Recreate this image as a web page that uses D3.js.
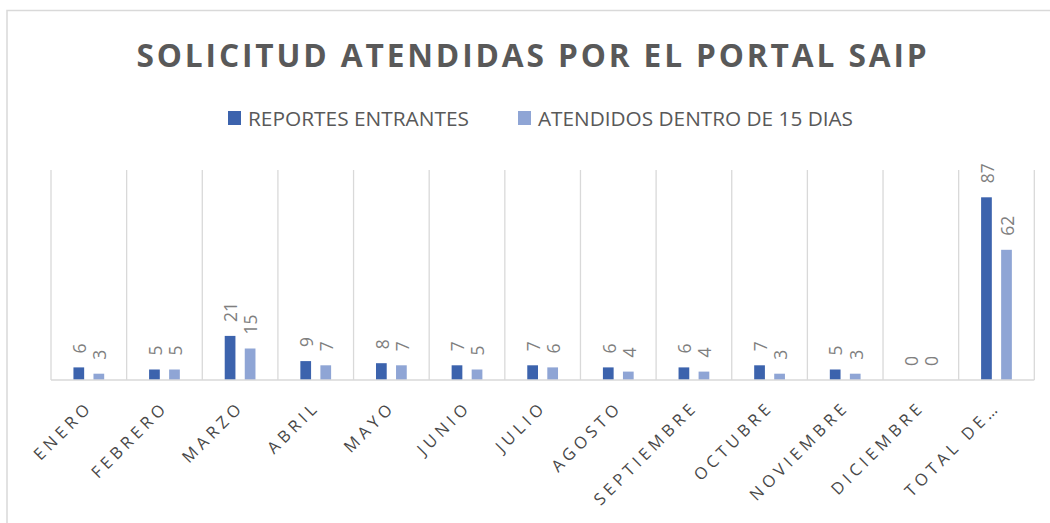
<!DOCTYPE html>
<html>
<head>
<meta charset="utf-8">
<script src="https://cdn.jsdelivr.net/npm/d3@7"></script>
<style>
  html, body { margin: 0; padding: 0; background: #fff; }
  svg { display: block; }
</style>
</head>
<body>
<div id="chart"></div>
<script>
// datos del grafico
var categorias = ["ENERO", "FEBRERO", "MARZO", "ABRIL", "MAYO", "JUNIO", "JULIO",
  "AGOSTO", "SEPTIEMBRE", "OCTUBRE", "NOVIEMBRE", "DICIEMBRE", "TOTAL DE…"];
var reportesEntrantes = [6, 5, 21, 9, 8, 7, 7, 6, 6, 7, 5, 0, 87];
var atendidos15Dias = [3, 5, 15, 7, 7, 5, 6, 4, 4, 3, 3, 0, 62];
var series = ["REPORTES ENTRANTES", "ATENDIDOS DENTRO DE 15 DIAS"];
var yDominio = [0, 100];

var width = 1050, height = 523;
var margin = {top: 170, right: 16, bottom: 143, left: 51};
var colores = ["#3c63ad", "#8fa5d5"];

var svg = d3.select("#chart").append("svg")
  .attr("width", width)
  .attr("height", height);

// marco del grafico
svg.append("rect")
  .attr("x", 7).attr("y", 10.5)
  .attr("width", width).attr("height", height)
  .attr("fill", "none")
  .attr("stroke", "#d9d9d9")
  .attr("stroke-width", 1.5);

svg.append("text")
  .attr("x", 533).attr("y", 67)
  .attr("text-anchor", "middle")
  .attr("textLength", 793)
  .attr("lengthAdjust", "spacingAndGlyphs")
  .style("font-family", "'Open Sans', sans-serif")
  .style("font-weight", "bold")
  .style("font-size", "33px")
  .style("letter-spacing", "3px")
  .style("fill", "#595959")
  .text("SOLICITUD ATENDIDAS POR EL PORTAL SAIP");

// leyenda
var leyenda = [
  {nombre: series[0], color: colores[0], x: 228, ancho: 221},
  {nombre: series[1], color: colores[1], x: 518, ancho: 315}
];
var ley = svg.selectAll(".ley").data(leyenda).enter().append("g")
  .attr("class", "ley")
  .attr("transform", function(d) { return "translate(" + d.x + ",0)"; });
ley.append("rect")
  .attr("x", 0).attr("y", 111)
  .attr("width", 13).attr("height", 14)
  .attr("fill", function(d) { return d.color; });
ley.append("text")
  .attr("x", 20).attr("y", 126)
  .attr("textLength", function(d) { return d.ancho; })
  .attr("lengthAdjust", "spacingAndGlyphs")
  .style("font-family", "'Open Sans', sans-serif")
  .style("font-size", "20px")
  .style("fill", "#595959")
  .text(function(d) { return d.nombre; });

var x0 = d3.scaleBand()
  .domain(categorias)
  .range([margin.left, width - margin.right + 0.3])
  .padding(0);

var x1 = d3.scaleBand()
  .domain(series)
  .range([0, x0.bandwidth()])
  .paddingInner(0.465)
  .paddingOuter(1.12);

var y = d3.scaleLinear()
  .domain(yDominio)
  .range([height - margin.bottom, margin.top]);

// lineas verticales de la cuadricula
var bordes = categorias.map(function(c) { return x0(c); });
bordes.push(x0(categorias[categorias.length - 1]) + x0.bandwidth());
svg.append("g").selectAll("line").data(bordes).enter().append("line")
  .attr("x1", function(d) { return d; })
  .attr("x2", function(d) { return d; })
  .attr("y1", y(yDominio[1]))
  .attr("y2", y(0))
  .attr("stroke", "#d9d9d9")
  .attr("stroke-width", 1.3);

var filas = categorias.map(function(c, i) {
  return {cat: c, valores: [
    {serie: series[0], valor: reportesEntrantes[i], color: colores[0]},
    {serie: series[1], valor: atendidos15Dias[i], color: colores[1]}
  ]};
});

var grupos = svg.append("g").selectAll("g").data(filas).enter().append("g")
  .attr("transform", function(d) { return "translate(" + x0(d.cat) + ",0)"; });

grupos.selectAll("rect").data(function(d) { return d.valores; }).enter().append("rect")
  .attr("x", function(d) { return x1(d.serie); })
  .attr("width", x1.bandwidth())
  .attr("y", function(d) { return y(d.valor); })
  .attr("height", function(d) { return y(0) - y(d.valor); })
  .attr("fill", function(d) { return d.color; });

grupos.selectAll("text").data(function(d) { return d.valores; }).enter().append("text")
  .attr("transform", function(d) {
    var cx = x1(d.serie) + x1.bandwidth() / 2 + 1;
    return "translate(" + cx + "," + (y(d.valor) - 14) + ") rotate(-90)";
  })
  .attr("dy", "0.36em")
  .style("font-family", "'Open Sans', sans-serif")
  .style("font-size", "17.5px")
  .style("fill", "#7f7f7f")
  .text(function(d) { return d.valor; });

// eje horizontal
svg.append("line")
  .attr("x1", margin.left).attr("x2", bordes[bordes.length - 1])
  .attr("y1", y(0)).attr("y2", y(0))
  .attr("stroke", "#d9d9d9")
  .attr("stroke-width", 1.3);

var xAxis = d3.axisBottom(x0).tickSize(0).tickPadding(0);
var eje = svg.append("g")
  .attr("transform", "translate(0," + y(0) + ")")
  .call(xAxis);
eje.select(".domain").remove();
eje.selectAll("text")
  .attr("y", 0)
  .attr("dy", 0)
  .attr("transform", "translate(5,28) rotate(-45)")
  .style("text-anchor", "end")
  .style("font-family", "'Open Sans', sans-serif")
  .style("font-size", "16.5px")
  .style("letter-spacing", "4.3px")
  .style("fill", "#484848");
</script>
</body>
</html>
